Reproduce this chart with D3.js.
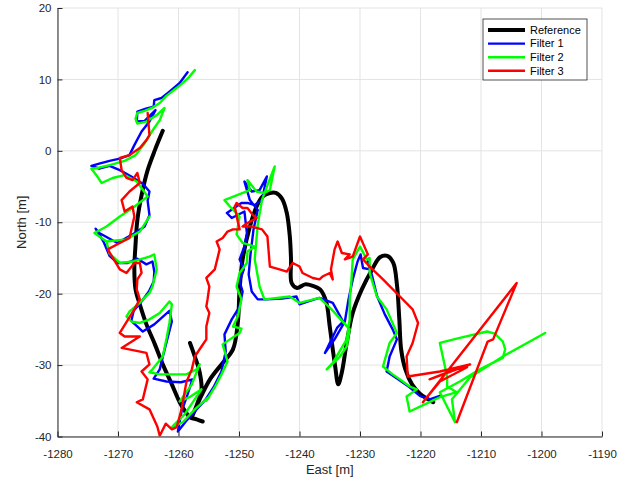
<!DOCTYPE html>
<html>
<head>
<meta charset="utf-8">
<script src="https://cdn.jsdelivr.net/npm/d3@7"></script>
<style>
  body { margin: 0; background: #fff; }
  svg { display: block; font-family: "Liberation Sans", Arial, sans-serif; }
</style>
</head>
<body>
<div id="chart"></div>
<script>
// East / North positions [m]; null marks a break in the reference track
const reference = [
  [-1262.6, 2.8], [-1263.9, 0.1], [-1265.1, -2.7], [-1266.1, -6.2], [-1266.8, -9.7], [-1267.1, -13.1],
  [-1267.3, -16.6], [-1267.1, -19.4], [-1266.4, -21.5], [-1265.3, -24.3], [-1263.9, -27.1], [-1262.6, -29.9],
  [-1261.1, -32.7], [-1259.8, -35.2], [-1258.8, -36.6], [-1258.1, -37.3], [-1257.0, -37.6], [-1256.0, -37.9],
  null,
  [-1258.1, -26.9], [-1257.3, -28.8], [-1256.5, -31.0], [-1256.2, -33.4], [-1256.8, -35.2], [-1257.6, -36.9],
  [-1257.8, -37.3], [-1256.5, -34.8], [-1254.8, -32.0], [-1252.7, -29.7], [-1251.0, -27.8], [-1250.2, -24.1],
  [-1249.9, -19.4], [-1249.4, -15.2], [-1248.2, -10.6], [-1247.1, -7.8], [-1246.1, -6.4], [-1244.9, -5.9],
  [-1243.9, -5.9], [-1242.9, -6.7], [-1242.1, -8.7], [-1241.6, -12.0], [-1241.4, -15.2], [-1241.3, -18.5],
  [-1240.4, -19.2], [-1239.1, -18.7], [-1237.8, -18.9], [-1236.6, -19.4], [-1235.6, -21.1], [-1235.0, -24.6],
  [-1234.5, -27.8], [-1234.1, -30.2], [-1233.6, -32.7], [-1233.0, -31.0], [-1232.2, -26.9], [-1231.2, -22.7],
  [-1229.7, -19.4], [-1228.0, -16.6], [-1226.7, -14.9], [-1225.5, -14.7], [-1224.5, -15.7], [-1223.9, -18.7],
  [-1223.5, -23.6], [-1223.2, -27.8], [-1222.5, -30.6], [-1221.4, -32.7], [-1220.1, -34.0], [-1218.7, -34.8],
  [-1217.9, -35.2]
];

const filter1 = [
  [-1258.5, 11.0], [-1259.8, 9.5], [-1261.5, 8.3], [-1262.8, 7.4], [-1264.0, 7.1], [-1264.1, 6.2],
  [-1265.4, 5.9], [-1266.8, 5.5], [-1266.9, 4.1], [-1265.6, 4.2], [-1263.8, 5.7], [-1264.8, 4.1],
  [-1266.1, 2.7], [-1267.3, 0.8], [-1268.1, -0.6], [-1269.7, -1.1], [-1271.4, -1.4], [-1273.1, -1.8],
  [-1274.4, -2.1], [-1273.1, -2.5], [-1271.4, -2.1], [-1269.7, -2.7], [-1267.8, -3.6], [-1265.9, -4.6],
  [-1264.8, -5.7], [-1265.1, -7.0], [-1264.8, -9.0], [-1265.6, -10.6], [-1267.6, -11.7], [-1270.1, -12.9],
  [-1273.1, -11.5], [-1273.7, -10.9], [-1272.4, -12.7], [-1271.4, -14.7], [-1270.1, -15.7], [-1268.4, -15.7],
  [-1266.8, -15.1], [-1265.3, -15.9], [-1264.3, -15.5], [-1264.0, -16.9], [-1264.1, -18.3], [-1264.9, -19.7],
  [-1266.1, -21.1], [-1267.4, -22.4], [-1267.8, -23.8], [-1265.9, -25.3], [-1264.0, -24.3], [-1261.5, -22.4],
  [-1261.1, -23.9], [-1261.8, -26.2], [-1262.5, -28.5], [-1263.1, -30.6], [-1264.1, -31.9], [-1262.0, -32.3],
  [-1259.6, -32.4], [-1257.7, -32.0], [-1258.5, -34.1], [-1259.5, -36.5], [-1260.1, -39.3], [-1258.8, -37.9],
  [-1257.2, -36.4], [-1255.5, -34.8], [-1254.2, -33.1], [-1252.9, -30.9], [-1252.2, -28.1], [-1252.4, -25.7],
  [-1251.2, -23.6], [-1249.9, -21.8], [-1249.4, -19.7], [-1249.9, -18.3], [-1249.2, -16.6], [-1249.9, -15.2],
  [-1249.1, -13.4], [-1248.7, -11.5], [-1249.1, -8.5], [-1251.2, -9.4], [-1252.0, -8.7], [-1249.6, -7.3],
  [-1248.6, -7.3], [-1247.4, -7.6], [-1246.2, -6.9], [-1245.4, -3.6], [-1246.6, -5.5], [-1247.9, -5.7],
  [-1249.1, -4.3], [-1248.2, -6.9], [-1246.9, -8.3], [-1247.6, -11.0], [-1248.1, -14.5], [-1248.4, -17.3],
  [-1247.9, -19.7], [-1246.9, -20.8], [-1245.4, -20.8], [-1242.9, -20.7], [-1240.5, -20.4], [-1240.0, -21.5],
  [-1238.3, -21.0], [-1236.7, -20.6], [-1234.5, -21.3], [-1232.8, -23.9], [-1233.8, -24.8], [-1235.8, -28.3],
  [-1234.2, -26.4], [-1232.5, -23.9], [-1231.9, -20.8], [-1231.2, -18.0], [-1230.4, -15.5], [-1229.9, -14.5],
  [-1229.5, -16.4], [-1228.4, -16.6], [-1228.7, -15.5], [-1228.0, -17.5], [-1227.2, -20.3], [-1225.9, -22.9],
  [-1224.6, -25.0], [-1223.9, -26.4], [-1225.1, -28.8], [-1225.6, -30.9], [-1223.7, -32.0], [-1221.8, -33.1],
  [-1220.1, -34.3], [-1218.5, -34.8], [-1216.8, -34.3]
];

const filter2 = [
  [-1257.3, 11.3], [-1258.5, 10.1], [-1260.0, 9.0], [-1262.0, 7.7], [-1263.1, 6.7], [-1264.4, 6.0],
  [-1265.6, 5.6], [-1266.8, 5.3], [-1267.1, 4.5], [-1266.8, 3.8], [-1265.3, 4.1], [-1263.6, 5.0],
  [-1262.3, 6.0], [-1263.1, 4.3], [-1264.4, 2.7], [-1265.8, 0.8], [-1267.1, -0.6], [-1268.9, -1.4],
  [-1271.4, -2.0], [-1273.4, -2.4], [-1274.4, -2.5], [-1273.5, -3.5], [-1272.7, -4.5], [-1270.9, -3.8],
  [-1268.9, -3.4], [-1266.9, -4.3], [-1265.1, -6.4], [-1267.6, -8.0], [-1269.7, -9.2], [-1271.9, -10.6],
  [-1273.9, -11.5], [-1271.9, -12.7], [-1268.6, -12.4], [-1266.4, -11.3], [-1264.8, -9.2], [-1266.4, -11.3],
  [-1268.6, -12.4], [-1271.9, -12.7], [-1271.4, -14.4], [-1269.7, -15.7], [-1267.6, -15.5], [-1264.8, -14.8],
  [-1264.0, -14.5], [-1263.6, -16.6], [-1264.3, -19.0], [-1264.8, -19.9], [-1266.4, -21.3], [-1268.1, -22.5],
  [-1268.6, -23.2], [-1267.8, -23.9], [-1266.4, -24.1], [-1264.8, -23.6], [-1263.1, -22.7], [-1261.5, -21.1],
  [-1261.1, -21.5], [-1261.5, -24.1], [-1262.0, -26.4], [-1262.6, -28.8], [-1264.3, -30.6], [-1264.8, -31.0],
  [-1263.1, -31.3], [-1261.0, -31.3], [-1258.7, -31.3], [-1257.0, -30.6], [-1256.5, -29.9], [-1257.8, -32.7],
  [-1259.8, -35.1], [-1258.2, -34.5], [-1256.2, -33.4], [-1259.0, -36.9], [-1261.1, -38.7], [-1259.3, -38.0],
  [-1257.3, -36.2], [-1254.9, -34.4], [-1255.4, -35.0], [-1254.0, -33.1], [-1252.9, -31.3], [-1251.9, -29.5],
  [-1252.7, -27.1], [-1251.5, -26.4], [-1249.9, -25.5], [-1249.6, -24.9], [-1251.0, -24.6], [-1250.2, -23.2],
  [-1249.6, -20.8], [-1250.4, -19.0], [-1249.9, -17.1], [-1248.7, -15.7], [-1248.6, -14.1], [-1247.4, -13.4],
  [-1249.4, -12.9], [-1250.4, -11.7], [-1249.9, -9.2], [-1251.5, -7.8], [-1252.4, -6.9], [-1248.2, -5.5],
  [-1248.6, -4.1], [-1247.1, -5.7], [-1245.8, -5.9], [-1244.9, -5.5], [-1244.1, -2.2], [-1245.3, -4.8],
  [-1246.2, -6.9], [-1246.9, -10.3], [-1247.4, -15.2], [-1246.6, -19.0], [-1245.8, -20.8], [-1241.6, -20.4],
  [-1240.0, -21.3], [-1236.7, -20.6], [-1234.7, -22.2], [-1231.7, -25.0], [-1232.2, -27.4], [-1233.3, -28.8],
  [-1235.5, -30.6], [-1234.5, -29.7], [-1232.2, -26.4], [-1231.7, -23.6], [-1231.7, -20.8], [-1231.4, -18.0],
  [-1231.2, -15.2], [-1230.0, -13.4], [-1228.9, -15.2], [-1228.4, -15.0], [-1228.4, -17.1], [-1227.2, -20.4],
  [-1225.6, -22.2], [-1223.9, -25.5], [-1225.1, -26.9], [-1226.2, -30.2], [-1224.6, -31.3], [-1223.4, -32.0],
  [-1221.8, -33.0], [-1220.6, -33.4], [-1222.3, -34.4], [-1221.8, -36.5], [-1219.3, -35.5], [-1216.8, -34.5],
  [-1214.0, -33.8], [-1215.6, -33.0], [-1215.6, -31.6], [-1216.8, -26.9], [-1213.5, -26.2], [-1209.0, -25.3],
  [-1207.7, -25.6], [-1206.4, -26.7], [-1206.0, -27.8], [-1206.4, -29.0], [-1210.2, -30.6], [-1213.5, -32.3],
  [-1216.8, -33.8], [-1214.3, -38.0], [-1214.8, -34.8], [-1211.8, -31.7], [-1206.4, -28.8], [-1199.4, -25.5]
];

const filter3 = [
  [-1265.1, 5.3], [-1264.8, 2.2], [-1265.3, 1.5], [-1266.4, 0.4], [-1268.1, -0.6], [-1269.7, -1.0],
  [-1269.4, -2.7], [-1268.6, -3.8], [-1267.6, -4.1], [-1266.8, -3.1], [-1266.4, -4.5], [-1268.1, -5.7],
  [-1269.4, -6.9], [-1268.9, -8.5], [-1267.6, -7.8], [-1267.3, -9.2], [-1268.1, -12.2], [-1269.7, -12.9],
  [-1271.7, -13.8], [-1269.7, -16.6], [-1268.6, -17.1], [-1267.3, -15.7], [-1266.4, -15.7], [-1266.1, -17.1],
  [-1266.8, -18.0], [-1266.9, -19.4], [-1266.4, -20.8], [-1267.3, -22.2], [-1269.7, -25.5], [-1268.9, -26.0],
  [-1266.4, -26.0], [-1269.4, -27.6], [-1265.3, -28.3], [-1264.8, -29.9], [-1266.1, -30.9], [-1265.1, -32.0],
  [-1265.9, -34.8], [-1266.9, -35.2], [-1264.8, -36.2], [-1263.5, -38.6], [-1263.1, -39.9], [-1262.1, -38.2],
  [-1261.1, -39.0], [-1260.3, -38.7], [-1259.5, -36.2], [-1258.7, -32.4], [-1257.8, -30.6], [-1257.3, -28.8],
  [-1256.2, -27.4], [-1255.4, -26.4], [-1255.4, -24.6], [-1254.9, -22.7], [-1255.4, -21.8], [-1255.2, -20.8],
  [-1254.9, -19.0], [-1255.4, -17.8], [-1254.0, -16.6], [-1253.2, -13.8], [-1253.7, -12.7], [-1252.7, -12.2],
  [-1251.9, -11.3], [-1251.0, -11.0], [-1249.9, -11.0], [-1250.2, -9.9], [-1250.7, -7.8], [-1250.4, -7.3],
  [-1249.4, -8.0], [-1248.6, -8.0], [-1247.7, -9.0], [-1247.1, -9.4], [-1248.6, -10.1], [-1249.4, -10.6],
  [-1247.9, -10.6], [-1246.2, -11.0], [-1245.3, -12.0], [-1244.9, -16.2], [-1243.3, -16.6], [-1242.1, -16.9],
  [-1241.1, -15.7], [-1240.0, -16.2], [-1239.5, -17.1], [-1237.8, -17.8], [-1236.7, -18.0], [-1236.2, -17.6],
  [-1235.0, -17.1], [-1234.5, -18.0], [-1234.8, -16.6], [-1234.2, -13.8], [-1233.7, -12.7], [-1233.0, -14.3],
  [-1231.7, -14.5], [-1232.5, -15.2], [-1231.2, -14.8], [-1230.0, -12.0], [-1228.7, -14.5], [-1229.5, -15.2],
  [-1228.4, -16.2], [-1226.2, -18.0], [-1223.4, -20.4], [-1221.3, -22.2], [-1220.4, -24.1], [-1221.3, -26.9],
  [-1222.3, -28.8], [-1222.1, -31.6], [-1216.8, -30.9], [-1211.8, -29.9], [-1218.5, -32.0], [-1214.3, -30.6],
  [-1212.3, -30.3], [-1216.8, -32.3], [-1219.6, -35.2], [-1204.1, -18.5], [-1208.0, -26.4], [-1208.9, -26.7],
  [-1214.0, -38.0]
];

const xTicks = [-1280, -1270, -1260, -1250, -1240, -1230, -1220, -1210, -1200, -1190];
const yTicks = [-40, -30, -20, -10, 0, 10, 20];

const seriesNames = ["Reference", "Filter 1", "Filter 2", "Filter 3"];
const seriesData = [reference, filter1, filter2, filter3];
const seriesColors = ["#000000", "#0000ff", "#00ff00", "#ff0000"];
const seriesWidths = [4, 2.4, 2.4, 2.4];

const width = 634, height = 482;
const margin = { top: 8, right: 32, bottom: 45.5, left: 57.5 };

const svg = d3.select("#chart").append("svg")
  .attr("width", width)
  .attr("height", height);

const x = d3.scaleLinear().domain([-1280, -1190]).range([margin.left, width - margin.right]);
const y = d3.scaleLinear().domain([-40, 20]).range([height - margin.bottom, margin.top]);

// grid
svg.append("g").selectAll("line")
  .data(xTicks).enter().append("line")
  .attr("x1", d => x(d)).attr("x2", d => x(d))
  .attr("y1", y(-40)).attr("y2", y(20))
  .attr("stroke", "#e3e3e3").attr("stroke-width", 1);
svg.append("g").selectAll("line")
  .data(yTicks).enter().append("line")
  .attr("y1", d => y(d)).attr("y2", d => y(d))
  .attr("x1", x(-1280)).attr("x2", x(-1190))
  .attr("stroke", "#e3e3e3").attr("stroke-width", 1);

svg.append("clipPath").attr("id", "plot-clip")
  .append("rect")
  .attr("x", x(-1280)).attr("y", y(20))
  .attr("width", x(-1190) - x(-1280)).attr("height", y(-40) - y(20));

const line = d3.line()
  .defined(d => d !== null)
  .x(d => x(d[0]))
  .y(d => y(d[1]));

const plot = svg.append("g").attr("clip-path", "url(#plot-clip)");

seriesData.forEach((data, i) => {
  plot.append("path")
    .datum(data)
    .attr("fill", "none")
    .attr("stroke", seriesColors[i])
    .attr("stroke-width", seriesWidths[i])
    .attr("stroke-linejoin", "round")
    .attr("stroke-linecap", "round")
    .attr("d", i === 0 ? line.curve(d3.curveCatmullRom)(data) : line.curve(d3.curveLinear)(data));
});

// axes (MATLAB style, ticks pointing inward)
const xAxis = svg.append("g")
  .attr("transform", `translate(0,${y(-40)})`)
  .call(d3.axisBottom(x).tickValues(xTicks).tickFormat(d => String(d))
    .tickSizeInner(-5).tickSizeOuter(0).tickPadding(13));
const yAxis = svg.append("g")
  .attr("transform", `translate(${x(-1280)},0)`)
  .call(d3.axisLeft(y).tickValues(yTicks).tickFormat(d => String(d))
    .tickSizeInner(-5).tickSizeOuter(0).tickPadding(6));

[xAxis, yAxis].forEach(g => {
  g.select(".domain").attr("stroke", "#262626").attr("stroke-width", 1);
  g.selectAll(".tick line").attr("stroke", "#262626");
  g.selectAll(".tick text")
    .attr("fill", "#262626")
    .style("font-size", "11.5px")
    .style("font-family", "Liberation Sans, Arial, sans-serif");
});

// axis labels
svg.append("text")
  .attr("x", (x(-1280) + x(-1190)) / 2)
  .attr("y", 474)
  .attr("text-anchor", "middle")
  .attr("font-size", "13px")
  .attr("fill", "#262626")
  .text("East [m]");

svg.append("text")
  .attr("transform", `translate(26,${(y(-40) + y(20)) / 2}) rotate(-90)`)
  .attr("text-anchor", "middle")
  .attr("font-size", "13px")
  .attr("fill", "#262626")
  .text("North [m]");

// legend
const legend = svg.append("g").attr("transform", "translate(483,19)");
legend.append("rect")
  .attr("width", 104).attr("height", 61)
  .attr("fill", "#fff")
  .attr("stroke", "#262626").attr("stroke-width", 0.8);
seriesNames.forEach((name, i) => {
  const ly = 11 + i * 13.6;
  legend.append("line")
    .attr("x1", 5).attr("x2", 42)
    .attr("y1", ly).attr("y2", ly)
    .attr("stroke", seriesColors[i])
    .attr("stroke-width", seriesWidths[i]);
  legend.append("text")
    .attr("x", 47).attr("y", ly)
    .attr("dy", "0.35em")
    .attr("font-size", "11px")
    .attr("fill", "#000")
    .text(name);
});
</script>
</body>
</html>
